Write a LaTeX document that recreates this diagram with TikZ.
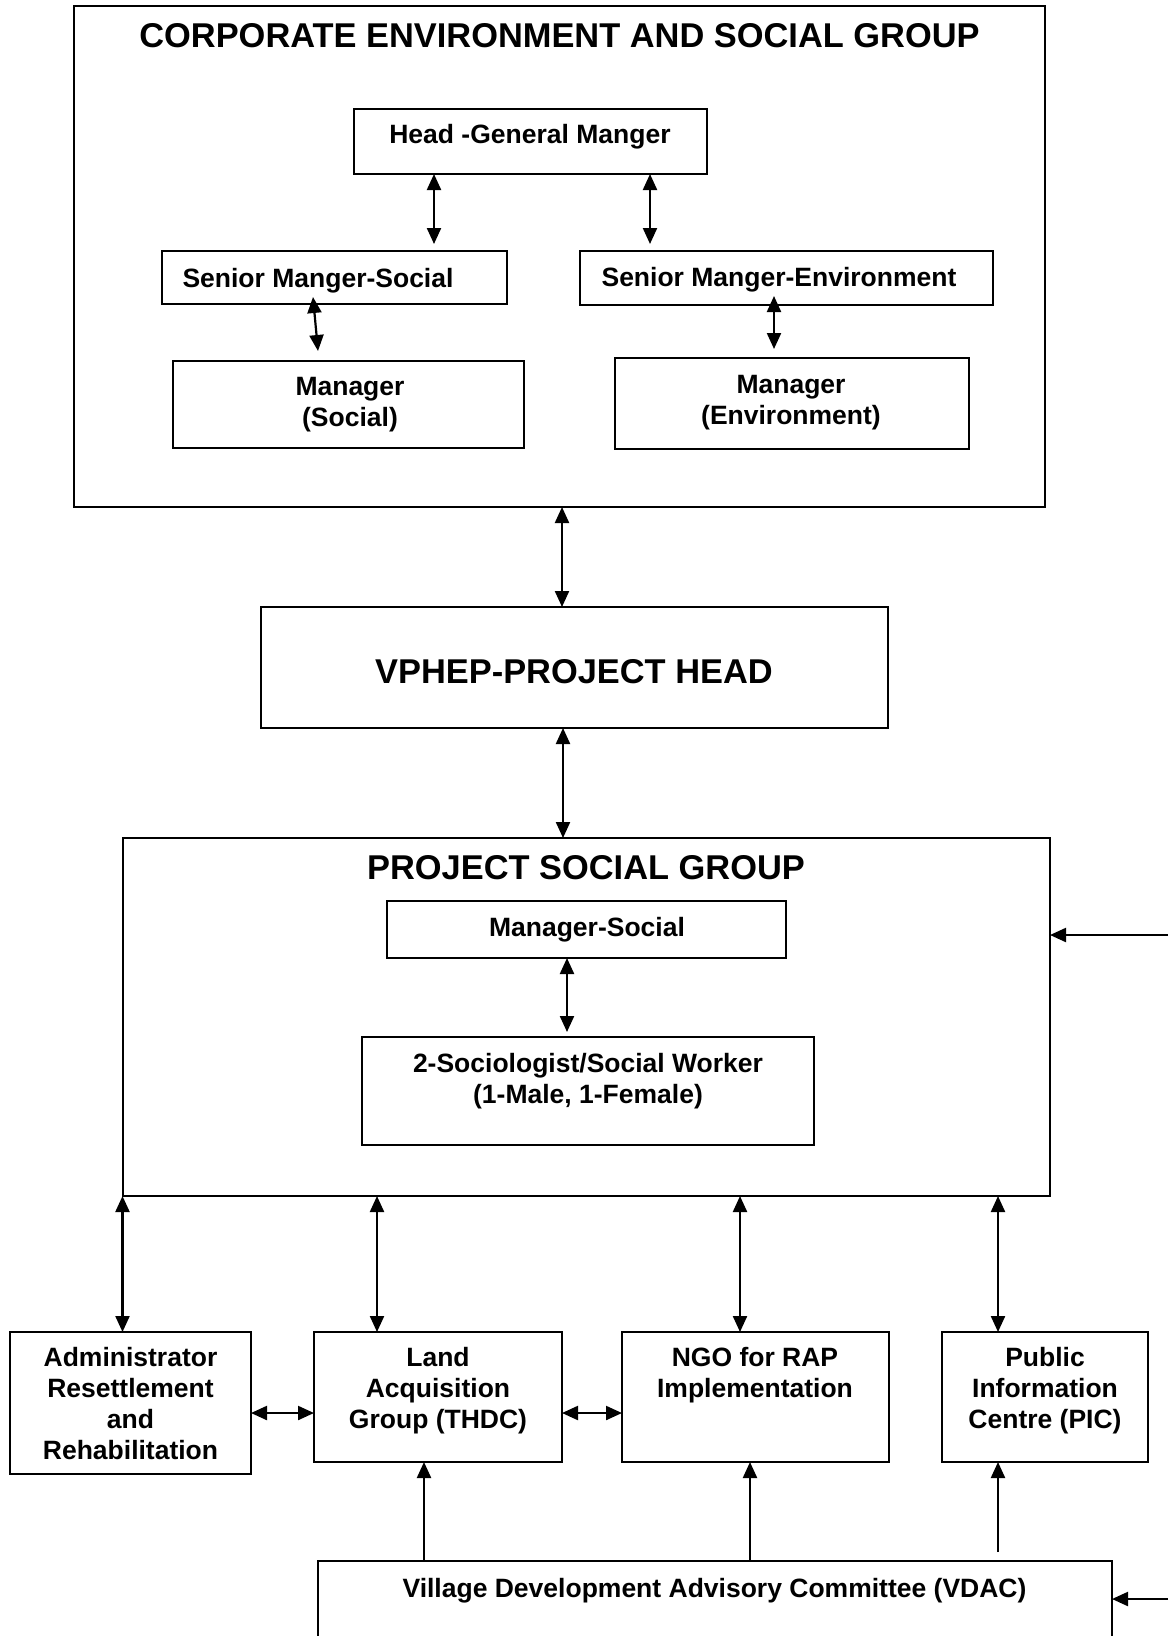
\documentclass[tikz,border=0pt]{standalone}
\usepackage{fontspec}
\setmainfont{Liberation Sans}
\usetikzlibrary{arrows.meta}
\begin{document}
\begin{tikzpicture}[x=1pt,y=-1pt,
  box/.style={draw=black,line width=2.2pt,inner sep=0pt,outer sep=0pt,anchor=north west},
  bigtxt/.style={font=\fontsize{34.4}{40}\selectfont\bfseries,inner sep=0pt,anchor=base},
  txt/.style={font=\fontsize{26.5}{31}\selectfont\bfseries,inner sep=0pt,align=center},
  bi/.style={line width=2.2pt,{Triangle[length=16pt,width=14pt]}-{Triangle[length=16pt,width=14pt]}},
  uni/.style={line width=2.2pt,-{Triangle[length=16pt,width=14pt]}}]
\useasboundingbox (0,0) rectangle (1168,1636);
\clip (0,0) rectangle (1168,1636);
% column / row helper coordinates
\coordinate (c434) at (434,0);
\coordinate (c650) at (650,0);
\coordinate (c562) at (562,0);
\coordinate (c563) at (563,0);
\coordinate (c567) at (567,0);
\coordinate (c122) at (122.5,0);
\coordinate (c377) at (377,0);
\coordinate (c740) at (740,0);
\coordinate (c998) at (998,0);
\coordinate (c424) at (424,0);
\coordinate (c750) at (750,0);
\coordinate (r1413) at (0,1413);
\coordinate (rin1) at (1168,935);
\coordinate (rin2) at (1168,1599);

% corporate group
\node[box,minimum width=971pt,minimum height=501pt] (corp) at (74,6) {};
\node[bigtxt] (corpT) at (559.5,47) {CORPORATE ENVIRONMENT AND SOCIAL GROUP};
\node[box,minimum width=353pt,minimum height=65pt] (head) at (354,109) {};
\node[txt,anchor=base] (headT) at (530,143) {Head -General Manger};
\node[box,minimum width=345pt,minimum height=53pt] (sens) at (162,251) {};
\node[txt,anchor=base] (sensT) at (318,287) {Senior Manger-Social};
\node[box,minimum width=413pt,minimum height=54pt] (sene) at (580,251) {};
\node[txt,anchor=base] (seneT) at (779,286) {Senior Manger-Environment};
\node[box,minimum width=351pt,minimum height=87pt] (mgrs) at (173,361) {};
\node[txt,anchor=north] (mgrsT) at (350,377) {Manager\\(Social)};
\node[box,minimum width=354pt,minimum height=91pt] (mgre) at (615,358) {};
\node[txt,anchor=north] (mgreT) at (791,375) {Manager\\(Environment)};

% project head
\node[box,minimum width=627pt,minimum height=121pt] (vphep) at (261,607) {};
\node[bigtxt] (vphepT) at (574,683) {VPHEP-PROJECT HEAD};

% project social group
\node[box,minimum width=927pt,minimum height=358pt] (psg) at (123,838) {};
\node[bigtxt] (psgT) at (586,879) {PROJECT SOCIAL GROUP};
\node[box,minimum width=399pt,minimum height=57pt] (mgrsoc) at (387,901) {};
\node[txt,anchor=base] (mgrsocT) at (587,936) {Manager-Social};
\node[box,minimum width=452pt,minimum height=108pt] (soc) at (362,1037) {};
\node[txt,anchor=north] (socT) at (588,1053) {2-Sociologist/Social Worker\\(1-Male, 1-Female)};

% bottom row
\node[box,minimum width=241pt,minimum height=142pt] (admin) at (10,1332) {};
\node[txt,anchor=north] (adminT) at (130.5,1347) {Administrator\\Resettlement\\and\\Rehabilitation};
\node[box,minimum width=248pt,minimum height=130pt] (land) at (314,1332) {};
\node[txt,anchor=north] (landT) at (438,1347) {Land\\Acquisition\\Group (THDC)};
\node[box,minimum width=267pt,minimum height=130pt] (ngo) at (622,1332) {};
\node[txt,anchor=north] (ngoT) at (755,1347) {NGO for RAP\\Implementation};
\node[box,minimum width=206pt,minimum height=130pt] (pic) at (942,1332) {};
\node[txt,anchor=north] (picT) at (1045,1347) {Public\\Information\\Centre (PIC)};
\node[box,minimum width=794pt,minimum height=200pt] (vdac) at (318,1561) {};
\node[txt,anchor=base] (vdacT) at (714.5,1597) {Village Development Advisory Committee (VDAC)};

% connectors in corporate group
\draw[bi,shorten >=7pt] (head.south -| c434) -- (sens.north -| c434);
\draw[bi,shorten >=7pt] (head.south -| c650) -- (sene.north -| c650);
\draw[bi] ([xshift=-21.5pt,yshift=7pt]sens.south) -- ([xshift=-30.5pt,yshift=10pt]mgrs.north);
\draw[bi] ([xshift=-12.5pt,yshift=9pt]sene.south) -- ([xshift=-18pt,yshift=9pt]mgre.north);

% vertical chain
\draw[bi] (corp.south -| c562) -- (vphep.north -| c562);
\draw[bi] (vphep.south -| c563) -- (psg.north -| c563);
\draw[bi,shorten >=5pt] (mgrsoc.south -| c567) -- (soc.north -| c567);
\draw[uni] (rin1) -- (psg.east |- rin1);

% to bottom row
\draw[bi] (psg.south -| c122) -- (admin.north -| c122);
\draw[bi] (psg.south -| c377) -- (land.north -| c377);
\draw[bi] (psg.south -| c740) -- (ngo.north -| c740);
\draw[bi] (psg.south -| c998) -- (pic.north -| c998);
\draw[bi] (admin.east |- r1413) -- (land.west |- r1413);
\draw[bi] (land.east |- r1413) -- (ngo.west |- r1413);

% from VDAC
\draw[uni] (vdac.north -| c424) -- (land.south -| c424);
\draw[uni] (vdac.north -| c750) -- (ngo.south -| c750);
\draw[uni,shorten <=9pt] (vdac.north -| c998) -- (pic.south -| c998);
\draw[uni] (rin2) -- (vdac.east |- rin2);
\end{tikzpicture}
\end{document}
